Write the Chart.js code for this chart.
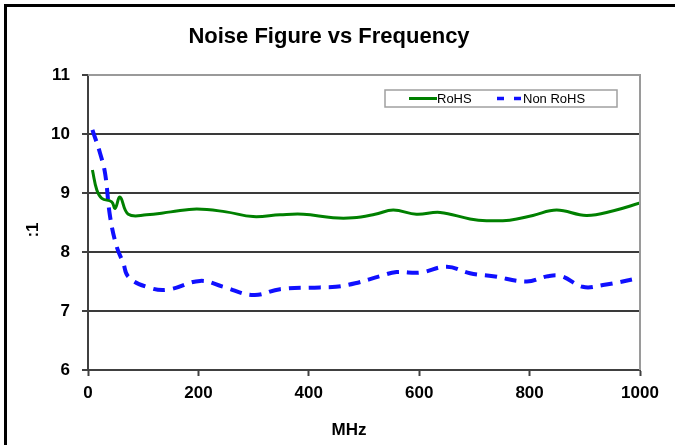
<!DOCTYPE html>
<html>
<head>
<meta charset="utf-8">
<script src="https://cdn.jsdelivr.net/npm/chart.js@4/dist/chart.umd.min.js"></script>
<style>
  html, body { margin: 0; padding: 0; background: #fff; }
  #wrap { width: 675px; height: 445px; }
</style>
</head>
<body>
<div id="wrap"><canvas id="nfChart" width="675" height="445"></canvas></div>
<script>
/* ================= DATA ================= */
const chartTitle = "Noise Figure vs Frequency";
const xTitle = "MHz";
const yTitle = ":1";

const rohsFreq = [8, 16, 25, 43, 49, 58, 73, 106, 150, 197, 250, 299, 348, 390, 444, 480, 520, 553, 595, 638, 692, 722, 764, 806, 849, 903, 952, 1000];
const rohsNF   = [9.39, 9.05, 8.91, 8.85, 8.74, 8.93, 8.64, 8.63, 8.68, 8.73, 8.68, 8.6, 8.63, 8.64, 8.58, 8.58, 8.64, 8.71, 8.64, 8.67, 8.56, 8.53, 8.54, 8.62, 8.71, 8.62, 8.7, 8.83];

const nonRohsFreq = [8, 22, 31, 40, 52, 64, 73, 106, 143, 203, 245, 300, 348, 420, 449, 484, 529, 559, 601, 650, 692, 734, 795, 833, 858, 896, 933, 1000];
const nonRohsNF   = [10.07, 9.67, 9.33, 8.6, 8.09, 7.81, 7.58, 7.41, 7.36, 7.51, 7.41, 7.27, 7.37, 7.4, 7.41, 7.47, 7.59, 7.66, 7.65, 7.75, 7.64, 7.59, 7.5, 7.59, 7.59, 7.41, 7.44, 7.56];

const seriesLabels = ["RoHS", "Non RoHS"];
const seriesColors = ["#008000", "#1010ff"];

const xTicks = [0, 200, 400, 600, 800, 1000];
const yTicks = [6, 7, 8, 9, 10, 11];

function toPoints(xs, ys) {
    return xs.map((x, i) => ({ x: x, y: ys[i] }));
}

/* ================= FRAME / TITLES / LEGEND ================= */
const decorPlugin = {
    id: "decor",
    beforeDraw(chart) {
        const c = chart.ctx;
        c.save();
        c.fillStyle = "#fff";
        c.fillRect(0, 0, chart.width, chart.height);
        c.strokeStyle = "#000";
        c.lineWidth = 3;
        c.beginPath();
        c.moveTo(5.5, 445);
        c.lineTo(5.5, 5.5);
        c.lineTo(675, 5.5);
        c.stroke();
        c.restore();
    },
    afterDraw(chart) {
        const c = chart.ctx;
        const a = chart.chartArea;
        c.save();

        // plot border top/right
        c.strokeStyle = "#9a9a9a";
        c.lineWidth = 2;
        c.beginPath();
        c.moveTo(a.left, a.top);
        c.lineTo(a.right, a.top);
        c.lineTo(a.right, a.bottom);
        c.stroke();

        // title
        c.fillStyle = "#000";
        c.textAlign = "center";
        c.textBaseline = "middle";
        c.font = "bold 22px 'Liberation Sans', Arial, sans-serif";
        c.fillText(chartTitle, 329, 37);

        // axis titles
        c.font = "bold 17px 'Liberation Sans', Arial, sans-serif";
        c.fillText(xTitle, 349, 430);
        c.save();
        c.translate(33, 230);
        c.rotate(-Math.PI / 2);
        c.fillText(yTitle, 0, 0);
        c.restore();

        // legend box
        c.fillStyle = "#fff";
        c.fillRect(385, 90, 232, 17);
        c.strokeStyle = "#a0a0a0";
        c.lineWidth = 1.5;
        c.strokeRect(385, 90, 232, 17);

        c.font = "13px 'Liberation Sans', Arial, sans-serif";
        c.textAlign = "left";
        c.fillStyle = "#000";

        c.strokeStyle = seriesColors[0];
        c.lineWidth = 3;
        c.beginPath();
        c.moveTo(409, 98.5);
        c.lineTo(437, 98.5);
        c.stroke();
        c.fillText(seriesLabels[0], 437, 99);

        c.strokeStyle = seriesColors[1];
        c.lineWidth = 3.5;
        c.setLineDash([7, 10]);
        c.beginPath();
        c.moveTo(497, 98.5);
        c.lineTo(524, 98.5);
        c.stroke();
        c.setLineDash([]);
        c.fillText(seriesLabels[1], 523, 99);

        c.restore();
    }
};

/* ================= CHART ================= */
const ctx = document.getElementById("nfChart").getContext("2d");
const tickFont = { family: "'Liberation Sans', Arial, sans-serif", size: 17, weight: "bold" };

const chart = new Chart(ctx, {
    type: "scatter",
    data: {
        datasets: [
            { label: seriesLabels[0], data: toPoints(rohsFreq, rohsNF), showLine: true, borderColor: seriesColors[0], borderWidth: 3, tension: 0.4, pointRadius: 0 },
            { label: seriesLabels[1], data: toPoints(nonRohsFreq, nonRohsNF), showLine: true, borderColor: seriesColors[1], borderWidth: 4, borderDash: [12, 8], tension: 0.4, pointRadius: 0 }
        ]
    },
    options: {
        responsive: false,
        animation: false,
        layout: { padding: { left: 0, right: 35, top: 75, bottom: 0 } },
        plugins: { legend: { display: false }, title: { display: false }, tooltip: { enabled: false } },
        scales: {
            x: {
                type: "linear", min: 0, max: 1000,
                afterBuildTicks: s => { s.ticks = xTicks.map(v => ({ value: v })); },
                afterFit: s => { s.height = 75; },
                grid: { drawOnChartArea: false, drawTicks: true, tickLength: 6, tickColor: "#404040", tickWidth: 2 },
                border: { color: "#404040", width: 2 },
                ticks: { color: "#000", font: tickFont, padding: 7, maxRotation: 0, callback: v => String(v) }
            },
            y: {
                type: "linear", min: 6, max: 11,
                afterBuildTicks: s => { s.ticks = yTicks.map(v => ({ value: v })); },
                afterFit: s => { s.width = 88; },
                grid: {
                    color: c => (c.tick && (c.tick.value === 11 || c.tick.value === 6)) ? "rgba(0,0,0,0)" : "#3a3a3a",
                    lineWidth: 2, tickLength: 6, tickColor: "#404040", tickWidth: 2
                },
                border: { color: "#404040", width: 2 },
                ticks: { color: "#000", font: tickFont, padding: 12, callback: v => String(v) }
            }
        }
    },
    plugins: [decorPlugin]
});
</script>
</body>
</html>
